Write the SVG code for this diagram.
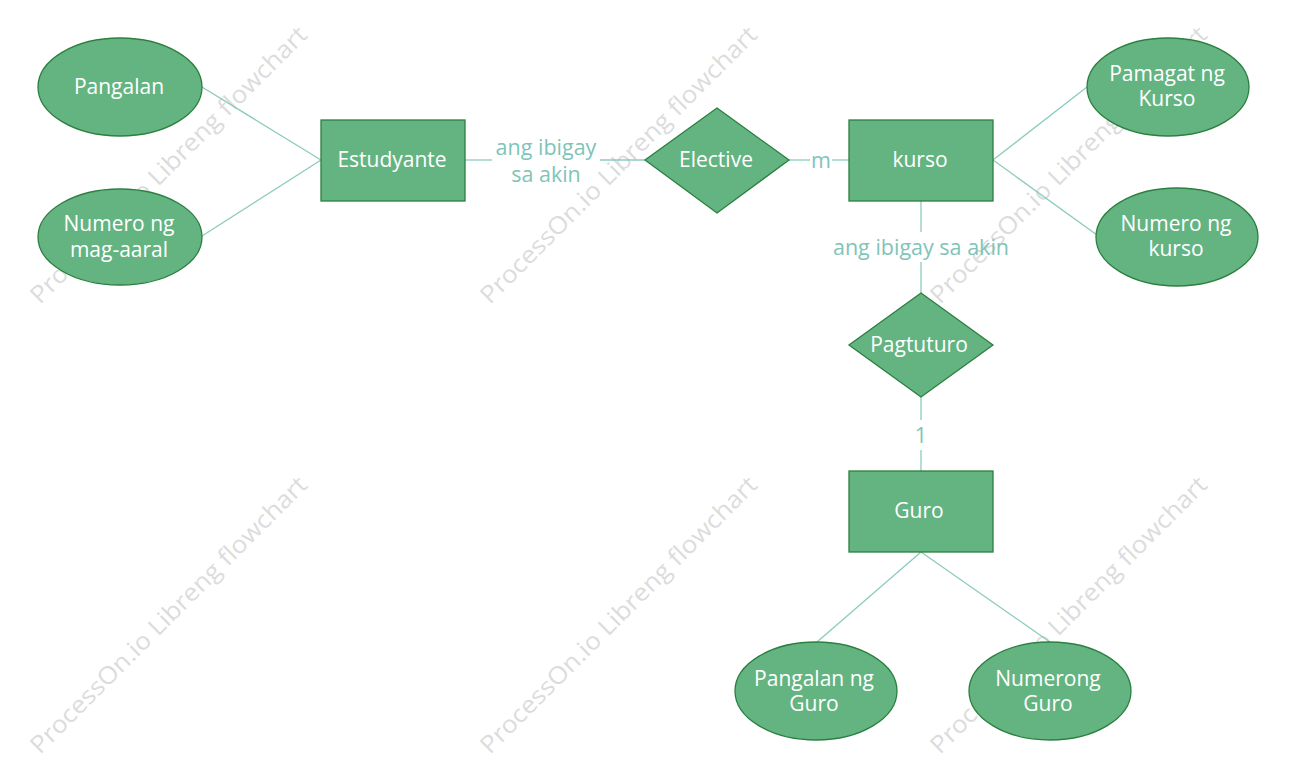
<svg xmlns="http://www.w3.org/2000/svg" width="1294" height="777" viewBox="0 0 1294 777">
<style>
.shape{fill:#64b482;stroke:#2b7f3f;stroke-width:1.3}
.t{fill:#ffffff;font-family:"Open Sans","Noto Sans",sans-serif;font-size:21px;text-anchor:middle}
.conn{stroke:#8bcbbf;stroke-width:1.3;fill:none}
.lbl{fill:#7fc4b8;font-family:"Open Sans","Noto Sans",sans-serif;font-size:21.5px;text-anchor:middle}
.wm{fill:#dcdcdc;font-family:"Open Sans","Noto Sans",sans-serif;font-size:24px}
</style>
<rect width="1294" height="777" fill="#ffffff"/>
<g id="watermarks">
<text class="wm" transform="translate(40,305) rotate(-45)" textLength="380" lengthAdjust="spacingAndGlyphs">ProcessOn.io Libreng flowchart</text>
<text class="wm" transform="translate(490,305) rotate(-45)" textLength="380" lengthAdjust="spacingAndGlyphs">ProcessOn.io Libreng flowchart</text>
<text class="wm" transform="translate(940,305) rotate(-45)" textLength="380" lengthAdjust="spacingAndGlyphs">ProcessOn.io Libreng flowchart</text>
<text class="wm" transform="translate(40,755) rotate(-45)" textLength="380" lengthAdjust="spacingAndGlyphs">ProcessOn.io Libreng flowchart</text>
<text class="wm" transform="translate(490,755) rotate(-45)" textLength="380" lengthAdjust="spacingAndGlyphs">ProcessOn.io Libreng flowchart</text>
<text class="wm" transform="translate(940,755) rotate(-45)" textLength="380" lengthAdjust="spacingAndGlyphs">ProcessOn.io Libreng flowchart</text>
</g>
<g id="connectors">
<line class="conn" x1="202" y1="87" x2="321" y2="160"/>
<line class="conn" x1="202" y1="236" x2="321" y2="160"/>
<line class="conn" x1="465" y1="160" x2="492" y2="160"/>
<line class="conn" x1="600" y1="160" x2="645" y2="160"/>
<text class="lbl" x="546" y="155">ang ibigay</text>
<text class="lbl" x="546" y="182">sa akin</text>
<line class="conn" x1="789" y1="160" x2="810" y2="160"/>
<line class="conn" x1="832" y1="160" x2="849" y2="160"/>
<text class="lbl" x="821" y="168">m</text>
<line class="conn" x1="993" y1="160" x2="1087" y2="87"/>
<line class="conn" x1="993" y1="160" x2="1097" y2="235"/>
<line class="conn" x1="921" y1="201" x2="921" y2="232"/>
<line class="conn" x1="921" y1="262" x2="921" y2="293"/>
<text class="lbl" x="921" y="255">ang ibigay sa akin</text>
<line class="conn" x1="921" y1="397" x2="921" y2="420"/>
<line class="conn" x1="921" y1="450" x2="921" y2="471"/>
<text class="lbl" x="921" y="443">1</text>
<line class="conn" x1="921" y1="552" x2="817" y2="642"/>
<line class="conn" x1="921" y1="552" x2="1050" y2="642"/>
</g>
<g id="pangalan">
<ellipse class="shape" cx="120" cy="87" rx="82" ry="49"/>
<text class="t" x="119" y="94">Pangalan</text>
</g>
<g id="numero-mag-aaral">
<ellipse class="shape" cx="120" cy="237" rx="82" ry="48"/>
<text class="t" x="119" y="231">Numero ng</text>
<text class="t" x="119" y="257">mag-aaral</text>
</g>
<g id="estudyante">
<rect class="shape" x="321" y="120" width="144" height="81"/>
<text class="t" x="392" y="167">Estudyante</text>
</g>
<g id="elective">
<polygon class="shape" points="717,108 789,160 717,213 645,160"/>
<text class="t" x="716" y="167">Elective</text>
</g>
<g id="kurso">
<rect class="shape" x="849" y="120" width="144" height="81"/>
<text class="t" x="920" y="167">kurso</text>
</g>
<g id="pamagat">
<ellipse class="shape" cx="1168" cy="87" rx="81" ry="49"/>
<text class="t" x="1167" y="81">Pamagat ng</text>
<text class="t" x="1167" y="106">Kurso</text>
</g>
<g id="numero-kurso">
<ellipse class="shape" cx="1177" cy="237" rx="81" ry="49"/>
<text class="t" x="1176" y="231">Numero ng</text>
<text class="t" x="1176" y="256">kurso</text>
</g>
<g id="pagtuturo">
<polygon class="shape" points="921,293 993,345 921,397 849,345"/>
<text class="t" x="919" y="352">Pagtuturo</text>
</g>
<g id="guro">
<rect class="shape" x="849" y="471" width="144" height="81"/>
<text class="t" x="919" y="518">Guro</text>
</g>
<g id="pangalan-guro">
<ellipse class="shape" cx="816" cy="691" rx="81" ry="49"/>
<text class="t" x="814" y="686">Pangalan ng</text>
<text class="t" x="814" y="711">Guro</text>
</g>
<g id="numerong-guro">
<ellipse class="shape" cx="1050" cy="691" rx="81" ry="49"/>
<text class="t" x="1048" y="686">Numerong</text>
<text class="t" x="1048" y="711">Guro</text>
</g>
</svg>
